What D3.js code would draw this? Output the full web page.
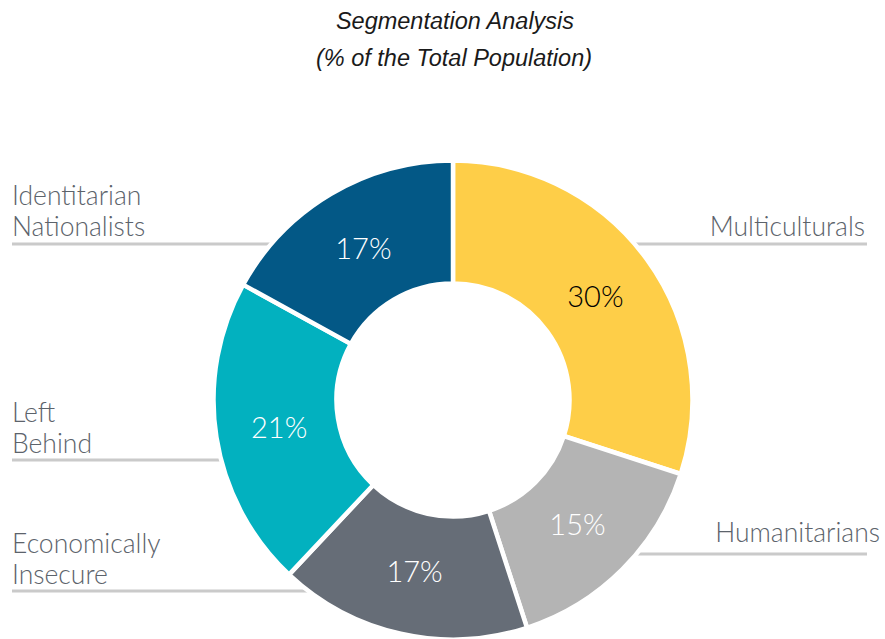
<!DOCTYPE html>
<html>
<head>
<meta charset="utf-8">
<script src="https://cdn.jsdelivr.net/npm/d3@7"></script>
<style>
  body { margin: 0; background: #fff; }
</style>
</head>
<body>
<div id="chart"></div>
<script>
// data
var segments = ["Multiculturals", "Humanitarians", "Economically Insecure", "Left Behind", "Identitarian Nationalists"];
var shares = [30, 15, 17, 21, 17];
var colors = ["#fece48", "#b4b4b4", "#666d77", "#02b1bf", "#035886"];
var labelColors = ["#000000", "#ffffff", "#ffffff", "#ffffff", "#ffffff"];

// where each segment name sits (layout only)
var nameLayout = [
  {lines: ["Multiculturals"], x: 865, y: 236, anchor: "end", lineY: 244, side: "right"},
  {lines: ["Humanitarians"], x: 880, y: 542, anchor: "end", lineY: 554, side: "right"},
  {lines: ["Economically", "Insecure"], x: 12, y: 553, anchor: "start", lineY: 591, side: "left"},
  {lines: ["Left", "Behind"], x: 12, y: 422, anchor: "start", lineY: 460, side: "left"},
  {lines: ["Identitarian", "Nationalists"], x: 12, y: 205, anchor: "start", lineY: 244, side: "left"}
];

var width = 885, height = 639;
var cx = 453, cy = 400;
var outerR = 239.5, innerR = 116.5;

var svg = d3.select("#chart")
  .append("svg")
    .attr("width", width)
    .attr("height", height);

// title
var title = svg.append("text")
  .attr("text-anchor", "middle")
  .style("font-family", "'Liberation Sans', Arial, sans-serif")
  .style("font-style", "italic")
  .style("font-size", "23.5px")
  .style("fill", "#1a1a1a");
title.append("tspan").attr("x", 455).attr("y", 29).text("Segmentation Analysis");
title.append("tspan").attr("x", 454).attr("y", 66).text("(% of the Total Population)");

var data = segments.map(function(s, i) {
  return {name: s, value: shares[i], color: colors[i], labelColor: labelColors[i], layout: nameLayout[i]};
});

// leader lines (behind the donut)
var rEdge = outerR - 2;
svg.append("g").selectAll("line")
  .data(data)
  .enter().append("line")
    .attr("x1", function(d) { return d.layout.side === "left" ? 12 : 867; })
    .attr("x2", function(d) {
      var dy = d.layout.lineY - cy;
      var dx = Math.sqrt(Math.max(0, rEdge * rEdge - dy * dy));
      return d.layout.side === "left" ? cx - dx + 10 : cx + dx - 10;
    })
    .attr("y1", function(d) { return d.layout.lineY; })
    .attr("y2", function(d) { return d.layout.lineY; })
    .attr("stroke", "#cacaca")
    .attr("stroke-width", 3);

// donut
var pie = d3.pie()
  .sort(null)
  .value(function(d) { return d.value; });

var arc = d3.arc()
  .innerRadius(innerR)
  .outerRadius(outerR);

var labelArc = d3.arc()
  .innerRadius(176)
  .outerRadius(176);

var g = svg.append("g")
  .attr("transform", "translate(" + cx + "," + cy + ")");

var slices = g.selectAll("g.slice")
  .data(pie(data))
  .enter().append("g")
    .attr("class", "slice");

slices.append("path")
  .attr("d", arc)
  .attr("fill", function(d) { return d.data.color; })
  .attr("stroke", "#fff")
  .attr("stroke-width", 4.5)
  .attr("stroke-linejoin", "miter");

slices.append("text")
  .attr("transform", function(d) { return "translate(" + labelArc.centroid(d) + ")"; })
  .attr("text-anchor", "middle")
  .attr("dy", "0.36em")
  .style("font-family", "Lato, sans-serif")
  .style("font-weight", 300)
  .style("font-size", "29px")
  .style("fill", function(d) { return d.data.labelColor; })
  .text(function(d) { return d.data.value + "%"; });

// segment names
var names = svg.append("g").selectAll("text")
  .data(data)
  .enter().append("text")
    .attr("text-anchor", function(d) { return d.layout.anchor; })
    .style("font-family", "Lato, sans-serif")
    .style("font-weight", 300)
    .style("font-size", "26.5px")
    .style("fill", "#5c636b");

names.each(function(d) {
  var t = d3.select(this);
  d.layout.lines.forEach(function(line, i) {
    t.append("tspan")
      .attr("x", d.layout.x)
      .attr("y", d.layout.y + i * 31)
      .text(line);
  });
});
</script>
</body>
</html>
